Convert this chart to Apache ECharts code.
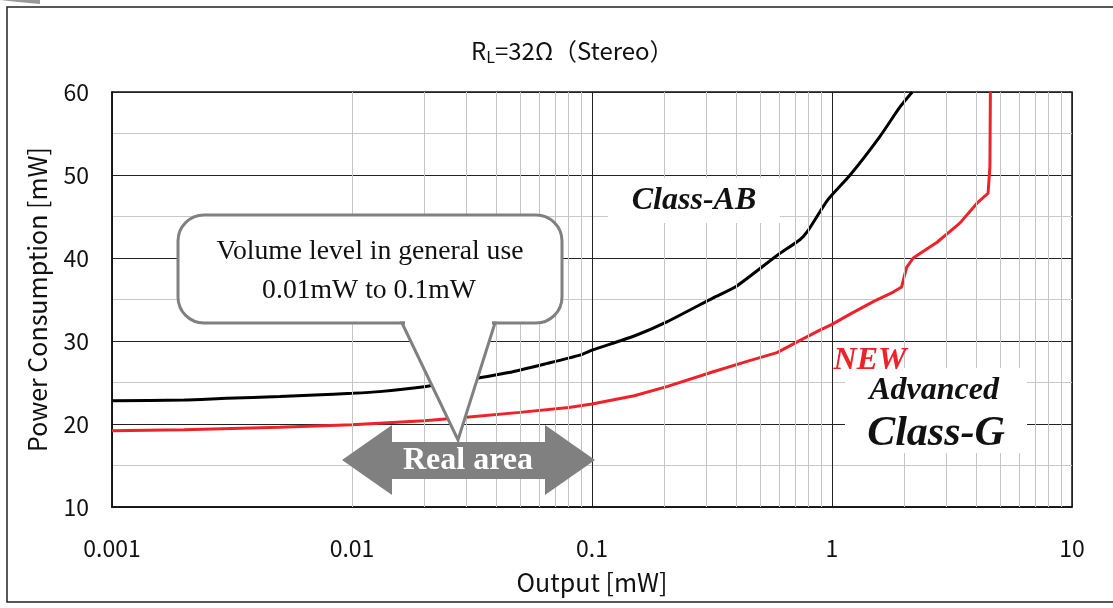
<!DOCTYPE html>
<html>
<head>
<meta charset="utf-8">
<script src="https://cdn.jsdelivr.net/npm/echarts@6/dist/echarts.min.js"></script>
<style>html,body{margin:0;padding:0;background:#fff}#c{width:1113px;height:608px}</style>
</head>
<body>
<div id="c"></div>
<script>
// ---- data ----
const abX = [0.001,0.002,0.003,0.005,0.007,0.01,0.013,0.02,0.03,0.045,0.065,0.089,0.1,0.15,0.205,0.32,0.40,0.59,0.735,0.79,0.96,1.19,1.58,1.92,2.16];
const abY = [22.8,22.9,23.1,23.3,23.5,23.7,23.9,24.5,25.3,26.2,27.3,28.3,28.9,30.6,32.3,35.2,36.6,40.3,42.2,43.2,47.0,50.0,54.6,58.2,60];
const gX  = [0.001,0.002,0.005,0.01,0.02,0.03,0.05,0.08,0.1,0.15,0.205,0.32,0.45,0.59,0.75,0.89,1.0,1.2,1.5,1.8,1.95,2.0,2.05,2.18,2.74,3.41,4.02,4.47,4.55,4.57];
const gY  = [19.2,19.3,19.6,19.9,20.4,20.8,21.4,22.0,22.4,23.4,24.5,26.3,27.6,28.6,30.2,31.3,32.0,33.3,34.8,35.9,36.5,37.8,38.9,40.0,41.9,44.2,46.6,47.8,51.0,60];
const xTickLabels = ['0.001','0.01','0.1','1','10'];
const yTickLabels = ['10','20','30','40','50','60'];

const chart = echarts.init(document.getElementById('c'), null, {renderer:'canvas'});
const zip = (xs, ys) => xs.map((x, i) => [x, ys[i]]);

// minor vertical grid positions (2..9 per decade)
const minorX = [];
for (let d = -3; d < 1; d++) for (let k = 2; k <= 9; k++) minorX.push({xAxis: +(k * Math.pow(10, d)).toPrecision(3)});

const sans = "'Noto Sans CJK JP', 'Noto Sans', sans-serif";
const serif = "'Liberation Serif', 'DejaVu Serif', serif";

chart.setOption({
  animation: false,
  backgroundColor: '#fff',
  title: {
    left: 466, top: 31,
    text: '{r|R}{s|L}{r|=32Ω（Stereo）}',
    textStyle: {
      fontWeight: 'normal',
      rich: {
        r: {fontFamily: sans, fontSize: 24, fontWeight: 'normal', color: '#111'},
        s: {fontFamily: sans, fontSize: 16, fontWeight: 'normal', color: '#111', padding: [13, 0, 0, 0]}
      }
    }
  },
  grid: {left: 112, top: 92, width: 960, height: 415, show: true, borderColor: '#111', borderWidth: 1.5, backgroundColor: 'transparent'},
  xAxis: {
    type: 'log', logBase: 10, min: 0.001, max: 10,
    name: 'Output [mW]', nameLocation: 'middle', nameGap: 63,
    nameTextStyle: {fontFamily: sans, fontSize: 25, color: '#111', lineHeight: 25},
    axisLine: {show: true, lineStyle: {color: '#111', width: 1.5}},
    axisTick: {show: false},
    axisLabel: {
      margin: 30, fontFamily: sans, fontSize: 23, color: '#111', lineHeight: 23,
      formatter: v => xTickLabels[Math.round(Math.log10(v)) + 3]
    },
    splitLine: {show: true, lineStyle: {color: '#222', width: 1}},
    minorTick: {show: false}, minorSplitLine: {show: false}
  },
  yAxis: {
    type: 'value', min: 10, max: 60, interval: 10,
    name: 'Power Consumption [mW]', nameLocation: 'middle', nameGap: 62,
    nameTextStyle: {fontFamily: sans, fontSize: 25, color: '#111', lineHeight: 25},
    axisLine: {show: true, lineStyle: {color: '#111', width: 1.5}},
    axisTick: {show: false},
    axisLabel: {margin: 23, fontFamily: sans, fontSize: 23, color: '#111',
      formatter: v => yTickLabels[Math.round((v - 10) / 10)]},
    splitLine: {show: true, lineStyle: {color: '#222', width: 1}},
    minorTick: {show: false, splitNumber: 2},
    minorSplitLine: {show: true, lineStyle: {color: '#c8c8c8', width: 1}}
  },
  series: [
    {
      type: 'line', data: [], z: 1, silent: true,
      markLine: {silent: true, symbol: ['none', 'none'], label: {show: false},
        lineStyle: {color: '#c4c4c4', type: 'solid', width: 1}, data: minorX, animation: false}
    },
    {name: 'Class-AB', type: 'line', data: zip(abX, abY), showSymbol: false, z: 3, smooth: 0.2,
      lineStyle: {color: '#000', width: 3}, itemStyle: {color: '#000'}},
    {name: 'Class-G', type: 'line', data: zip(gX, gY), showSymbol: false, z: 3,
      lineStyle: {color: '#ee2229', width: 3}, itemStyle: {color: '#ee2229'}}
  ],
  graphic: [
    {type: 'polygon', shape: {points: [[0,0],[40,0],[40,4],[18,2]]}, style: {fill: '#999'}, z: 10},
    {type: 'rect', shape: {x: 7, y: 7, width: 1130, height: 595}, style: {fill: 'none', stroke: '#222', lineWidth: 1.5}, z: 10},
    // Class-AB label
    {type: 'rect', shape: {x: 608, y: 178, width: 172, height: 45}, style: {fill: '#fff'}, z: 10},
    {type: 'text', x: 694, y: 201, style: {text: 'Class-AB', font: 'italic bold 32px ' + serif, fill: '#111', align: 'center', verticalAlign: 'middle'}, z: 11},
    // NEW Advanced Class-G
    {type: 'rect', shape: {x: 845, y: 368, width: 182, height: 85}, style: {fill: '#fff'}, z: 10},
    {type: 'text', x: 870, y: 361, style: {text: 'NEW', font: 'italic bold 32px ' + serif, fill: '#ee2229', align: 'center', verticalAlign: 'middle'}, z: 11},
    {type: 'text', x: 934, y: 391, style: {text: 'Advanced', font: 'italic bold 32px ' + serif, fill: '#111', align: 'center', verticalAlign: 'middle'}, z: 11},
    {type: 'text', x: 936, y: 434, style: {text: 'Class-G', font: 'italic bold 42px ' + serif, fill: '#111', align: 'center', verticalAlign: 'middle'}, z: 11},
    // callout bubble
    {type: 'rect', shape: {x: 178, y: 215, width: 384, height: 108, r: 26}, style: {fill: '#fff', stroke: '#808080', lineWidth: 3}, z: 10},
    {type: 'polygon', shape: {points: [[402,323],[458,440],[495,323]]}, style: {fill: '#fff', stroke: '#808080', lineWidth: 3, lineJoin: 'miter'}, z: 10},
    {type: 'rect', shape: {x: 405, y: 319, width: 87, height: 6}, style: {fill: '#fff'}, z: 10},
    {type: 'text', x: 370, y: 252, style: {text: 'Volume level in general use', font: '27.7px ' + serif, fill: '#111', align: 'center', verticalAlign: 'middle'}, z: 11},
    {type: 'text', x: 369, y: 291, style: {text: '0.01mW to 0.1mW', font: '27.7px ' + serif, fill: '#111', align: 'center', verticalAlign: 'middle'}, z: 11},
    // Real area arrow
    {type: 'polygon', shape: {points: [[342,460],[392,425],[392,442],[545,442],[545,425],[595,460],[545,495],[545,479],[392,479],[392,495]]},
      style: {fill: '#808080'}, z: 10},
    {type: 'text', x: 468, y: 461, style: {text: 'Real area', font: 'bold 32px ' + serif, fill: '#fff', align: 'center', verticalAlign: 'middle'}, z: 11}
  ]
});
</script>
</body>
</html>
